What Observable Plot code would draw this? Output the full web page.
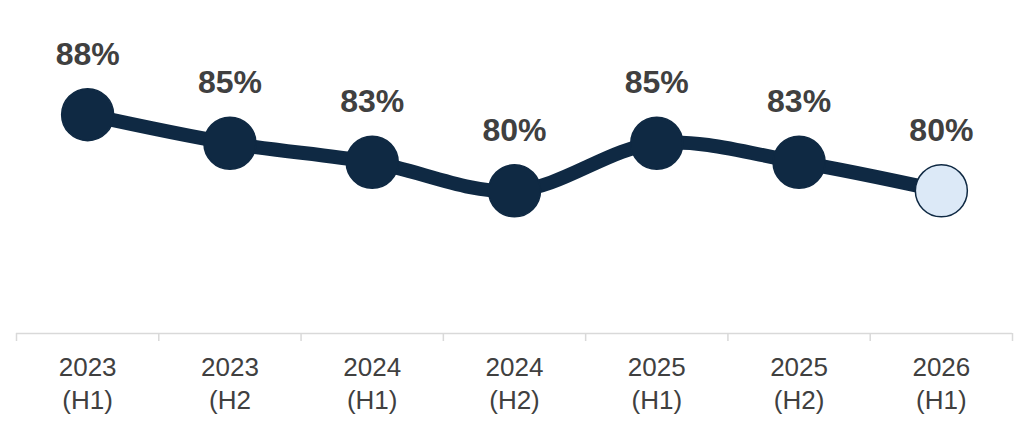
<!DOCTYPE html>
<html>
<head>
<meta charset="utf-8">
<script src="https://cdn.jsdelivr.net/npm/d3@7"></script>
<script src="https://cdn.jsdelivr.net/npm/@observablehq/plot@0.6"></script>
<style>
  html, body { margin: 0; padding: 0; background: #ffffff; }
  #chart { width: 1024px; height: 428px; }
  svg { font-family: "Liberation Sans", Arial, sans-serif; }
</style>
</head>
<body>
<div id="chart"></div>
<script>
const periods = ["2023\n(H1)", "2023\n(H2", "2024\n(H1)", "2024\n(H2)", "2025\n(H1)", "2025\n(H2)", "2026\n(H1)"];
const values = [88, 85, 83, 80, 85, 83, 80];
const projected = [false, false, false, false, false, false, true];

const data = periods.map((p, i) => ({ i, period: p, value: values[i], projected: projected[i] }));
const boundaries = d3.range(periods.length + 1).map(k => k - 0.5);

const navy = "#0f2943";

const chart = Plot.plot({
  width: 1024,
  height: 428,
  marginLeft: 16,
  marginRight: 12,
  marginTop: 0,
  marginBottom: 95,
  style: { background: "#ffffff", fontFamily: "'Liberation Sans', Arial, sans-serif" },
  x: { type: "linear", domain: [-0.5, periods.length - 0.5], axis: null, label: null },
  y: { domain: [65, 100], axis: null },
  marks: [
    Plot.ruleY([65], { stroke: "#d9d9d9", strokeWidth: 1.5 }),
    Plot.axisX({
      ticks: boundaries,
      tickSize: 8,
      text: null,
      label: null,
      stroke: "#d9d9d9",
      strokeWidth: 1.5,
      strokeOpacity: 1
    }),
    Plot.axisX({
      ticks: d3.range(periods.length),
      tickSize: 0,
      tickPadding: 19,
      tickFormat: i => periods[i],
      label: null,
      fontSize: 26,
      fill: "#404040",
      lineHeight: 1.27
    }),
    Plot.line(data, { x: "i", y: "value", curve: "catmull-rom", stroke: navy, strokeWidth: 14 }),
    Plot.dot(data, {
      x: "i", y: "value", r: 26,
      fill: d => d.projected ? "#dce9f7" : navy,
      stroke: navy, strokeWidth: 1.5
    }),
    Plot.text(data, {
      x: "i", y: "value",
      text: d => d.value + "%",
      dy: -60,
      fontSize: 32,
      fontWeight: "bold",
      fill: "#404040"
    })
  ]
});
document.getElementById("chart").appendChild(chart);
</script>
</body>
</html>
